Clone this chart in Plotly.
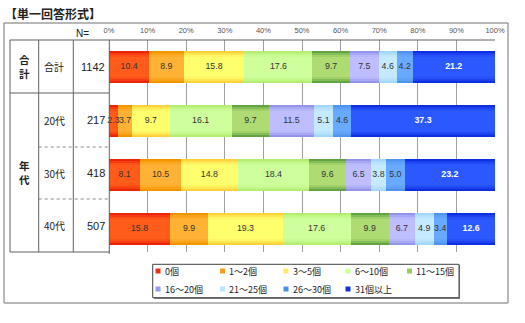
import plotly.graph_objects as go

# Respondent groups (rows) and their sample sizes
groups = ["合計", "20代", "30代", "40代"]
group_n = [1142, 217, 418, 507]

# Answer categories (stack order, left to right)
answers = ["0個", "1～2個", "3～5個", "6～10個", "11～15個",
           "16～20個", "21～25個", "26～30個", "31個以上"]

# Share of respondents per answer (%), one value per group
share_0 = [10.4, 2.3, 8.1, 15.8]
share_1_2 = [8.9, 3.7, 10.5, 9.9]
share_3_5 = [15.8, 9.7, 14.8, 19.3]
share_6_10 = [17.6, 16.1, 18.4, 17.6]
share_11_15 = [9.7, 9.7, 9.6, 9.9]
share_16_20 = [7.5, 11.5, 6.5, 6.7]
share_21_25 = [4.6, 5.1, 3.8, 4.9]
share_26_30 = [4.2, 4.6, 5.0, 3.4]
share_31_plus = [21.2, 37.3, 23.2, 12.6]

series = [share_0, share_1_2, share_3_5, share_6_10, share_11_15,
          share_16_20, share_21_25, share_26_30, share_31_plus]

tick_values = [0, 10, 20, 30, 40, 50, 60, 70, 80, 90, 100]
tick_text = ["0%", "10%", "20%", "30%", "40%", "50%", "60%", "70%", "80%", "90%", "100%"]

# Bar colours: (edge, centre) for the banded fill, plus legend swatch colour
edge_colors = ["#EC2408", "#F29600", "#FFD23C", "#B6EE74", "#62A442",
               "#9494EA", "#A4D8FA", "#4F94EC", "#0E2EE2"]
center_colors = ["#FF5C1C", "#FFB234", "#FFFF6E", "#CEFF9C", "#AEDC72",
                 "#BEBEFF", "#C4EAFF", "#68AAFF", "#2C58FF"]
swatch_colors = ["#E83010", "#F0A020", "#FFE866", "#CCFF99", "#99CC66",
                 "#9999EE", "#BBE6FF", "#4A90E8", "#1133DD"]
label_colors = ["#333333"] * 8 + ["#FFFFFF"]

JP = "Noto Sans CJK JP"
NUM = "Liberation Sans"


def mix(c1, c2, t):
    a = [int(c1[i:i + 2], 16) for i in (1, 3, 5)]
    b = [int(c2[i:i + 2], 16) for i in (1, 3, 5)]
    return "#%02X%02X%02X" % tuple(round(a[k] + (b[k] - a[k]) * t) for k in range(3))


# Plot area in pixels: x 109..495, y 40..252
L, R, T, B = 109, 495, 40, 252
W, H = 525, 323


def px(x):
    return (x - L) / (R - L)


def py(y):
    return (B - y) / (B - T)


fig = go.Figure()

# Cumulative starts of every segment
bases = []
running = [0.0] * len(groups)
for vals in series:
    bases.append(list(running))
    running = [r + v for r, v in zip(running, vals)]

bar_w = 0.61
layers = [(1.00, 0.0), (0.86, 0.45), (0.72, 0.8), (0.58, 1.0)]
for k, vals in enumerate(series):
    for scale, t in layers:
        fig.add_trace(go.Bar(
            y=groups, x=vals, base=bases[k], orientation="h",
            width=bar_w * scale,
            marker=dict(color=mix(edge_colors[k], center_colors[k], t), line=dict(width=0)),
            showlegend=False, hoverinfo="skip",
        ))

# Value labels centred on each segment
for k, vals in enumerate(series):
    bold = label_colors[k] == "#FFFFFF"
    fig.add_trace(go.Scatter(
        y=groups, x=[b + v / 2 for b, v in zip(bases[k], vals)],
        mode="text",
        text=[(f"<b>{v:.1f}</b>" if bold else f"{v:.1f}") for v in vals],
        textfont=dict(family=NUM, size=8.8, color=label_colors[k]),
        textposition="middle center", cliponaxis=False,
        showlegend=False, hoverinfo="skip",
    ))

shapes = []
annotations = []
line_col = "#606060"


def hline(x0, x1, y, dash="solid", color=line_col):
    shapes.append(dict(type="line", xref="paper", yref="paper",
                       x0=px(x0), x1=px(x1), y0=py(y), y1=py(y),
                       line=dict(color=color, width=1, dash=dash)))


def vline(x, y0, y1, color=line_col):
    shapes.append(dict(type="line", xref="paper", yref="paper",
                       x0=px(x), x1=px(x), y0=py(y0), y1=py(y1),
                       line=dict(color=color, width=1)))


# Outer frame
shapes.append(dict(type="rect", xref="paper", yref="paper",
                   x0=px(4), x1=px(508), y0=py(23), y1=py(303),
                   line=dict(color="#707070", width=1)))

# Row-label table
hline(10, 495, 40)
hline(10, 109, 93)
hline(38.7, 109, 147, dash="dot", color="#888888")
hline(38.7, 109, 199, dash="dot", color="#888888")
hline(10, 109, 252)
vline(10, 40, 252)
vline(38.7, 40, 252)
vline(73.3, 40, 252)
vline(109.3, 40, 254)

row_centers = [66.5, 120, 173, 225.5]

annotations.append(dict(xref="paper", yref="paper", x=px(24), y=py(66.5),
                        text="<b>合<br>計</b>", showarrow=False,
                        font=dict(family=JP, size=10.5, color="#222222"),
                        xanchor="center", yanchor="middle"))
annotations.append(dict(xref="paper", yref="paper", x=px(24), y=py(172.5),
                        text="<b>年<br>代</b>", showarrow=False,
                        font=dict(family=JP, size=10.5, color="#222222"),
                        xanchor="center", yanchor="middle"))
for g, n, yc in zip(groups, group_n, row_centers):
    annotations.append(dict(xref="paper", yref="paper", x=px(41.5), y=py(yc),
                            text=g, showarrow=False,
                            font=dict(family=JP, size=10, color="#222222"),
                            xanchor="left", yanchor="middle"))
    annotations.append(dict(xref="paper", yref="paper", x=px(107), y=py(yc),
                            text=str(n), showarrow=False,
                            font=dict(family=NUM, size=11, color="#222222"),
                            xanchor="right", yanchor="middle"))

annotations.append(dict(xref="paper", yref="paper", x=px(82.5), y=py(34),
                        text="N=", showarrow=False,
                        font=dict(family=NUM, size=10, color="#222222"),
                        xanchor="center", yanchor="middle"))

# Heading
annotations.append(dict(xref="paper", yref="paper", x=px(3), y=py(14),
                        text="<b>【単一回答形式】</b>", showarrow=False,
                        font=dict(family=JP, size=12, color="#222222"),
                        xanchor="left", yanchor="middle"))

# Legend box with swatches
shapes.append(dict(type="rect", xref="paper", yref="paper",
                   x0=px(154), x1=px(460), y0=py(265), y1=py(299),
                   line=dict(width=0), fillcolor="#808080"))
shapes.append(dict(type="rect", xref="paper", yref="paper",
                   x0=px(152.7), x1=px(459), y0=py(264.3), y1=py(297.7),
                   line=dict(color="#444444", width=1), fillcolor="#FFFFFF"))
col_x = [158, 222.5, 286, 348, 409.5]
row_y = [271, 289]
for k, name in enumerate(answers):
    cx = col_x[k % 5]
    cy = row_y[k // 5]
    shapes.append(dict(type="rect", xref="paper", yref="paper",
                       x0=px(cx - 2.5), x1=px(cx + 2.5), y0=py(cy - 2.5), y1=py(cy + 2.5),
                       line=dict(width=0), fillcolor=swatch_colors[k]))
    annotations.append(dict(xref="paper", yref="paper", x=px(cx + 4.5), y=py(cy),
                            text=name, showarrow=False,
                            font=dict(family=JP, size=9, color="#222222"),
                            xanchor="left", yanchor="middle"))

fig.update_layout(
    width=W, height=H,
    margin=dict(l=L, r=W - R, t=T, b=H - B),
    paper_bgcolor="#FFFFFF", plot_bgcolor="#FFFFFF",
    barmode="overlay", bargap=0,
    shapes=shapes, annotations=annotations,
    xaxis=dict(range=[0, 100], side="top", tickvals=tick_values, ticktext=tick_text,
               showgrid=True, gridcolor="#A0A0A0", gridwidth=1, zeroline=False,
               showline=False, ticks="", ticklabelstandoff=5,
               tickfont=dict(family=NUM, size=7.5, color="#555555"), fixedrange=True),
    yaxis=dict(type="category", categoryorder="array", categoryarray=groups,
               range=[3.426, -0.5], showticklabels=False, showgrid=False,
               zeroline=False, showline=False, ticks="", fixedrange=True),
    font=dict(family=JP),
)

fig.write_html("out.html")
